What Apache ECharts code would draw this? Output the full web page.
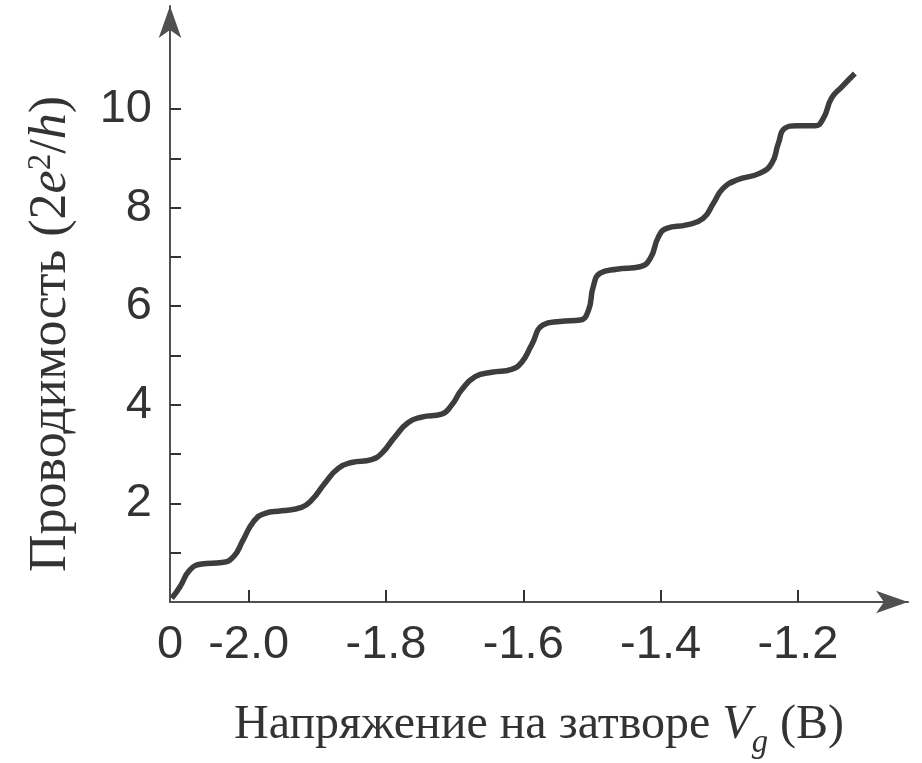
<!DOCTYPE html>
<html>
<head>
<meta charset="utf-8">
<script src="https://cdn.jsdelivr.net/npm/echarts@6/dist/echarts.min.js"></script>
<style>
  html, body { margin: 0; padding: 0; background: #fff; }
  #mychart { width: 922px; height: 763px; }
</style>
</head>
<body>
<div id="mychart"></div>
<script>
// напряжение на затворе (В)
const vg = [-2.112, -2.100, -2.0855, -2.0685, -2.039, -2.022, -2.008, -1.993, -1.976, -1.952,
  -1.923, -1.908, -1.889, -1.8695, -1.850, -1.821, -1.806, -1.787, -1.7675, -1.748,
  -1.719, -1.704, -1.690, -1.670, -1.646, -1.617, -1.602, -1.588, -1.571, -1.5465,
  -1.517, -1.505, -1.498, -1.488, -1.464, -1.430, -1.415, -1.403, -1.391, -1.362,
  -1.338, -1.323, -1.309, -1.289, -1.255, -1.238, -1.2285, -1.219, -1.202, -1.175,
  -1.163, -1.151, -1.136, -1.117]
// проводимость (2e^2/h)
const g = [0.075, 0.31, 0.65, 0.77, 0.80, 0.92, 1.26, 1.63, 1.80, 1.85,
  1.92, 2.07, 2.41, 2.71, 2.83, 2.89, 3.02, 3.35, 3.64, 3.75,
  3.81, 4.00, 4.30, 4.57, 4.66, 4.72, 4.87, 5.21, 5.62, 5.69,
  5.72, 5.92, 6.40, 6.67, 6.75, 6.80, 6.97, 7.41, 7.58, 7.65,
  7.78, 8.09, 8.39, 8.56, 8.70, 8.90, 9.30, 9.61, 9.66, 9.66,
  9.81, 10.22, 10.45, 10.72]

const xMin = -2.1146
const xMax = -1.0396
const xTicks = [-2.0, -1.8, -1.6, -1.4, -1.2]
const xLabels = [xMin, -2.0, -1.8, -1.6, -1.4, -1.2]
const yTicks = [1, 2, 3, 4, 5, 6, 7, 8, 9, 10]
const yLabels = [2, 4, 6, 8, 10]

const labelFont = '"Liberation Sans", Arial, sans-serif'
const titleFont = '"Liberation Serif", "Times New Roman", serif'
const axisColor = '#505050'

// подписи осей: курсив, верхний и нижний индексы
function titleRich (size) {
  return {
    r: { fontFamily: titleFont, fontSize: size, color: '#333' },
    i: { fontFamily: titleFont, fontSize: size, fontStyle: 'italic', color: '#333' },
    sup: { fontFamily: titleFont, fontSize: size * 0.64, color: '#333', verticalAlign: 'top', lineHeight: size * 0.6 },
    sub: { fontFamily: titleFont, fontSize: size * 0.68, fontStyle: 'italic', color: '#333', verticalAlign: 'bottom', padding: [size * 0.72, 0, 0, 0] }
  }
}

let mychart = echarts.init(document.getElementById('mychart'))
mychart.setOption({
  animation: false,
  grid: { left: 170, right: 14, top: 6, bottom: 161, outerBoundsMode: 'none', containLabel: false },
  xAxis: {
    type: 'value',
    min: xMin,
    max: xMax,
    splitLine: { show: false },
    axisLine: {
      lineStyle: { color: axisColor, width: 2 },
      symbol: ['none', 'arrow'],
      symbolSize: [17, 32]
    },
    axisTick: {
      inside: true,
      length: 12,
      customValues: xTicks,
      lineStyle: { color: '#333', width: 2 }
    },
    axisLabel: {
      customValues: xLabels,
      margin: 20,
      fontFamily: labelFont,
      fontSize: 47,
      color: '#333',
      formatter: function (v) { return v < -2.05 ? '0' : v.toFixed(1) }
    },
    name: '{r|Напряжение на затворе }{i|V}{sub|g}{r| (В)}',
    nameLocation: 'middle',
    nameGap: 90,
    nameTextStyle: { rich: titleRich(48) }
  },
  yAxis: {
    type: 'value',
    min: 0,
    max: 12.09,
    splitLine: { show: false },
    axisLine: {
      lineStyle: { color: axisColor, width: 2 },
      symbol: ['none', 'arrow'],
      symbolSize: [17, 32]
    },
    axisTick: {
      inside: true,
      length: 11,
      customValues: yTicks,
      lineStyle: { color: '#333', width: 2 }
    },
    axisLabel: {
      customValues: yLabels,
      margin: 18,
      fontFamily: labelFont,
      fontSize: 47,
      color: '#333'
    },
    name: '{r|Проводимость (2}{i|e}{sup|2}{r|/}{i|h}{r|)}',
    nameLocation: 'middle',
    nameRotate: 90,
    nameGap: 93,
    nameTextStyle: { rich: titleRich(52), padding: [0, 60, 0, 0] }
  },
  series: [
    {
      type: 'line',
      data: vg.map((v, i) => [v, g[i]]),
      smooth: true,
      showSymbol: false,
      lineStyle: { color: '#3d3d3d', width: 5.5 }
    }
  ]
})
</script>
</body>
</html>
